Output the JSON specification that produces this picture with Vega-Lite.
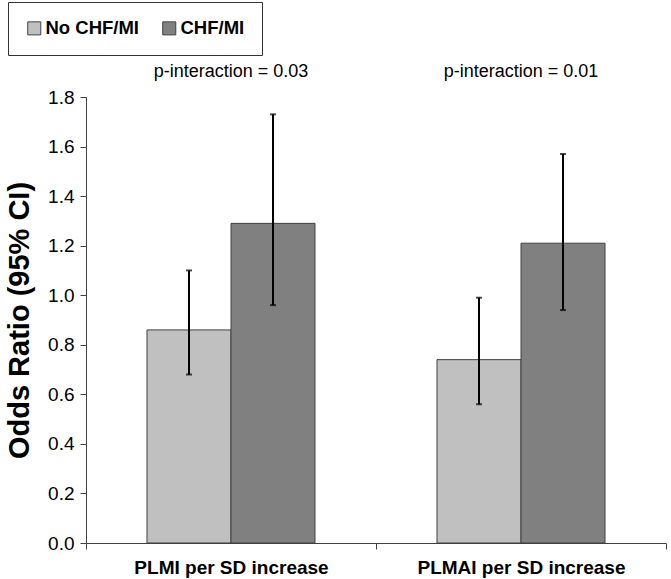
{
  "$schema": "https://vega.github.io/schema/vega-lite/v6.json",
  "width": 580,
  "height": 446,
  "autosize": {"type": "none"},
  "padding": {"left": 86, "top": 97, "right": 5, "bottom": 36},
  "background": "white",
  "config": {
    "font": "Liberation Sans",
    "view": {"stroke": null}
  },
  "datasets": {
    "bars": [
      {"group": "PLMI per SD increase", "cond": "No CHF/MI", "or": 0.86, "lo": 0.68, "hi": 1.10},
      {"group": "PLMI per SD increase", "cond": "CHF/MI", "or": 1.29, "lo": 0.96, "hi": 1.73},
      {"group": "PLMAI per SD increase", "cond": "No CHF/MI", "or": 0.74, "lo": 0.56, "hi": 0.99},
      {"group": "PLMAI per SD increase", "cond": "CHF/MI", "or": 1.21, "lo": 0.94, "hi": 1.57}
    ],
    "notes": [
      {"group": "PLMI per SD increase", "label": "p-interaction = 0.03", "pos": 1.9},
      {"group": "PLMAI per SD increase", "label": "p-interaction = 0.01", "pos": 1.9}
    ]
  },
  "layer": [
    {
      "data": {"name": "bars"},
      "mark": {"type": "bar", "stroke": "#404040", "strokeWidth": 1},
      "encoding": {
        "x": {
          "field": "group", "type": "nominal", "sort": null,
          "scale": {"paddingInner": 0, "paddingOuter": 0},
          "axis": {
            "title": null, "labelAngle": 0, "tickBand": "extent", "labelLimit": 0,
            "labelFontSize": 19, "labelFontWeight": "bold", "labelColor": "black",
            "labelPadding": 9, "domainColor": "#404040", "tickColor": "#404040", "tickSize": 6
          }
        },
        "xOffset": {
          "field": "cond", "type": "nominal", "sort": ["No CHF/MI", "CHF/MI"],
          "scale": {"domain": ["No CHF/MI", "CHF/MI"], "paddingInner": 0, "paddingOuter": 0.726}
        },
        "y": {
          "field": "or", "type": "quantitative",
          "scale": {"domain": [0, 1.8], "nice": false},
          "axis": {
            "title": "Odds Ratio (95% CI)", "titleFontSize": 29, "titleFontWeight": "bold",
            "titleColor": "black", "titlePadding": 13,
            "values": [0, 0.2, 0.4, 0.6, 0.8, 1.0, 1.2, 1.4, 1.6, 1.8],
            "format": ".1f", "labelFontSize": 19, "labelColor": "black",
            "grid": false, "domainColor": "#404040", "tickColor": "#404040", "tickSize": 6, "labelPadding": 6
          }
        },
        "color": {
          "field": "cond", "type": "nominal",
          "scale": {"domain": ["No CHF/MI", "CHF/MI"], "range": ["#c0c0c0", "#808080"]},
          "legend": {
            "title": null, "orient": "none", "legendX": -78, "legendY": -95,
            "direction": "horizontal", "strokeColor": "#333333", "fillColor": "white",
            "padding": 17, "symbolType": "square", "symbolSize": 170,
            "symbolStrokeColor": "#404040", "symbolStrokeWidth": 1,
            "labelFontSize": 18.5, "labelFontWeight": "bold", "labelColor": "black",
            "columnPadding": 20, "labelOffset": 2
          }
        }
      }
    },
    {
      "data": {"name": "bars"},
      "mark": {"type": "rule", "color": "black", "strokeWidth": 2},
      "encoding": {
        "x": {"field": "group", "type": "nominal", "sort": null},
        "xOffset": {"field": "cond", "type": "nominal", "sort": ["No CHF/MI", "CHF/MI"]},
        "y": {"field": "lo", "type": "quantitative"},
        "y2": {"field": "hi"}
      }
    },
    {
      "data": {"name": "bars"},
      "mark": {"type": "tick", "color": "black", "thickness": 2, "size": 6, "orient": "horizontal"},
      "encoding": {
        "x": {"field": "group", "type": "nominal", "sort": null},
        "xOffset": {"field": "cond", "type": "nominal", "sort": ["No CHF/MI", "CHF/MI"]},
        "y": {"field": "lo", "type": "quantitative"}
      }
    },
    {
      "data": {"name": "bars"},
      "mark": {"type": "tick", "color": "black", "thickness": 2, "size": 6, "orient": "horizontal"},
      "encoding": {
        "x": {"field": "group", "type": "nominal", "sort": null},
        "xOffset": {"field": "cond", "type": "nominal", "sort": ["No CHF/MI", "CHF/MI"]},
        "y": {"field": "hi", "type": "quantitative"}
      }
    },
    {
      "data": {"name": "notes"},
      "mark": {"type": "text", "fontSize": 18, "color": "black", "align": "center", "baseline": "middle"},
      "encoding": {
        "x": {"field": "group", "type": "nominal", "sort": null},
        "y": {"field": "pos", "type": "quantitative"},
        "text": {"field": "label"}
      }
    }
  ]
}
